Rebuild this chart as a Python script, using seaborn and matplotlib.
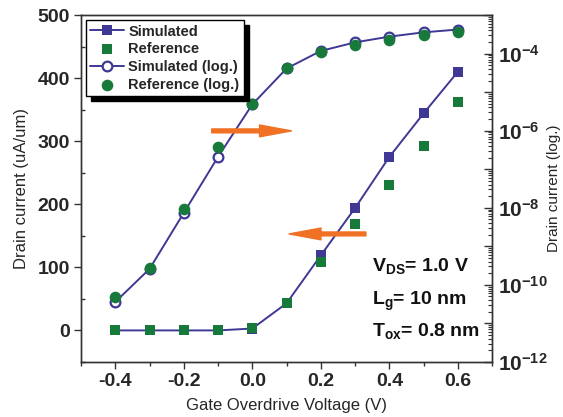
import numpy as np
import pandas as pd
import matplotlib
matplotlib.use("Agg")
import matplotlib.pyplot as plt
from matplotlib.ticker import MultipleLocator, LogLocator, FuncFormatter, NullFormatter
import seaborn as sns

# ---- data ----
vg = [-0.4, -0.3, -0.2, -0.1, 0.0, 0.1, 0.2, 0.3, 0.4, 0.5, 0.6]
sim_lin = [0, 0, 0, 0, 3, 43, 119, 194, 275, 344, 410]          # uA/um
ref_lin = [0, 0, 0, 0, 4, 43, 108, 168, 230, 292, 362]          # uA/um
sim_log = [3.6e-11, 2.6e-10, 7.4e-9, 2.1e-7, 4.8e-6, 4.1e-5,
           1.17e-4, 1.95e-4, 2.75e-4, 3.55e-4, 4.2e-4]          # A/um
ref_log = [4.9e-11, 2.75e-10, 9.3e-9, 3.8e-7, 4.8e-6, 4.1e-5,
           1.07e-4, 1.7e-4, 2.3e-4, 2.95e-4, 3.6e-4]            # A/um
labels = ["Simulated", "Reference", "Simulated (log.)", "Reference (log.)"]
xticks = [-0.4, -0.2, 0.0, 0.2, 0.4, 0.6]
yticks_left = [0, 100, 200, 300, 400, 500]
notes = ["V$_\\mathregular{DS}$= 1.0 V", "L$_\\mathregular{g}$= 10 nm", "T$_\\mathregular{ox}$= 0.8 nm"]

df = pd.DataFrame({"vg": vg, "sim_lin": sim_lin, "ref_lin": ref_lin,
                   "sim_log": sim_log, "ref_log": ref_log})

PURPLE = "#3f3894"
GREEN = "#187a3a"
ORANGE = "#f07024"

sns.set_style("ticks")
plt.rcParams["font.family"] = ["Liberation Sans", "DejaVu Sans"]
plt.rcParams["font.weight"] = "bold"
plt.rcParams["axes.unicode_minus"] = False
plt.rcParams["axes.edgecolor"] = "#333333"
plt.rcParams["axes.linewidth"] = 1.0

fig = plt.figure(figsize=(5.63, 4.17), dpi=100)
ax = fig.add_axes([0.144, 0.132, 0.730, 0.832])
ax2 = ax.twinx()

sns.lineplot(data=df, x="vg", y="sim_lin", ax=ax, color=PURPLE, marker="s",
             markersize=7, markeredgewidth=0, linewidth=1.4, label=labels[0])
sns.scatterplot(data=df, x="vg", y="ref_lin", ax=ax, color=GREEN, marker="s",
                s=52, linewidth=0, label=labels[1], zorder=3)
sns.lineplot(data=df, x="vg", y="sim_log", ax=ax2, color=PURPLE, marker="o",
             markersize=7, markerfacecolor="white", markeredgecolor=PURPLE,
             markeredgewidth=1.6, linewidth=1.4, label=labels[2])
sns.scatterplot(data=df, x="vg", y="ref_log", ax=ax2, color=GREEN, marker="o",
                s=70, linewidth=0, label=labels[3], zorder=3)

# left axis
ax.set_xlim(-0.5, 0.7)
ax.set_ylim(-50, 500)
ax.set_xticks(xticks)
ax.xaxis.set_minor_locator(MultipleLocator(0.1))
ax.set_yticks(yticks_left)
ax.yaxis.set_minor_locator(MultipleLocator(50))
ax.xaxis.set_major_formatter(FuncFormatter(lambda v, p: f"{v:.1f}"))
ax.tick_params(axis="both", which="major", direction="out", length=5, width=1,
               labelsize=14, pad=3, color="#333333")
ax.tick_params(axis="both", which="minor", direction="out", length=3, width=1,
               color="#333333")
ax.tick_params(axis="y", which="minor", direction="in")
ax.set_xlabel("Gate Overdrive Voltage (V)", fontsize=12, fontweight="normal", labelpad=6)
ax.set_ylabel("Drain current (uA/um)", fontsize=12, fontweight="normal", labelpad=6)

# right axis
ax2.set_yscale("log")
ax2.set_ylim(1e-12, 1e-3)
ax2.yaxis.set_major_locator(LogLocator(base=10, numticks=20))
ax2.yaxis.set_minor_locator(LogLocator(base=10, subs=np.arange(2, 10), numticks=50))
ax2.yaxis.set_minor_formatter(NullFormatter())


def logfmt(v, p):
    e = int(round(np.log10(v)))
    if e % 2 == 0 and -12 <= e <= -4:
        return "$\\mathregular{10^{%d}}$" % e
    return ""


ax2.yaxis.set_major_formatter(FuncFormatter(logfmt))
ax2.tick_params(axis="y", which="major", direction="in", length=6, width=1,
                labelsize=15, pad=4, color="#333333")
ax2.tick_params(axis="y", which="minor", direction="in", length=3, width=0.8,
                color="#333333")
ax2.set_ylabel("Drain current (log.)", fontsize=11, fontweight="normal")
ax2.yaxis.set_label_coords(1.133, 0.5)
ax2.set_xlim(-0.5, 0.7)

# legend
h1, l1 = ax.get_legend_handles_labels()
h2, l2 = ax2.get_legend_handles_labels()
if ax.get_legend() is not None:
    ax.get_legend().remove()
if ax2.get_legend() is not None:
    ax2.get_legend().remove()
leg = ax2.legend(h1 + h2, l1 + l2, loc="upper left", bbox_to_anchor=(0.012, 0.985),
                 fontsize=10.5, frameon=True, fancybox=False, framealpha=1,
                 edgecolor="black", handlelength=2.3, handletextpad=0.3,
                 labelspacing=0.25, borderpad=0.3, borderaxespad=0.0,
                 shadow={"color": "black", "alpha": 1, "ox": 3.5, "oy": -3.5})
leg.get_frame().set_linewidth(1.0)
for t in leg.get_texts():
    t.set_fontweight("bold")

# arrows
arrow_style = "simple,head_length=2.3,head_width=0.85,tail_width=0.28"
ax2.annotate("", xy=(0.512, 0.666), xytext=(0.318, 0.666), xycoords="axes fraction",
             textcoords="axes fraction",
             arrowprops=dict(arrowstyle=arrow_style, mutation_scale=10,
                             color=ORANGE, shrinkA=0, shrinkB=0))
ax2.annotate("", xy=(0.506, 0.369), xytext=(0.693, 0.369), xycoords="axes fraction",
             textcoords="axes fraction",
             arrowprops=dict(arrowstyle=arrow_style, mutation_scale=10,
                             color=ORANGE, shrinkA=0, shrinkB=0))

# annotation text
for txt, yy in zip(notes, [0.259, 0.164, 0.072]):
    ax2.text(0.708, yy, txt, transform=ax2.transAxes, fontsize=14,
             fontweight="bold", va="baseline", ha="left", color="#111111")

fig.savefig("out.png", dpi=100)
